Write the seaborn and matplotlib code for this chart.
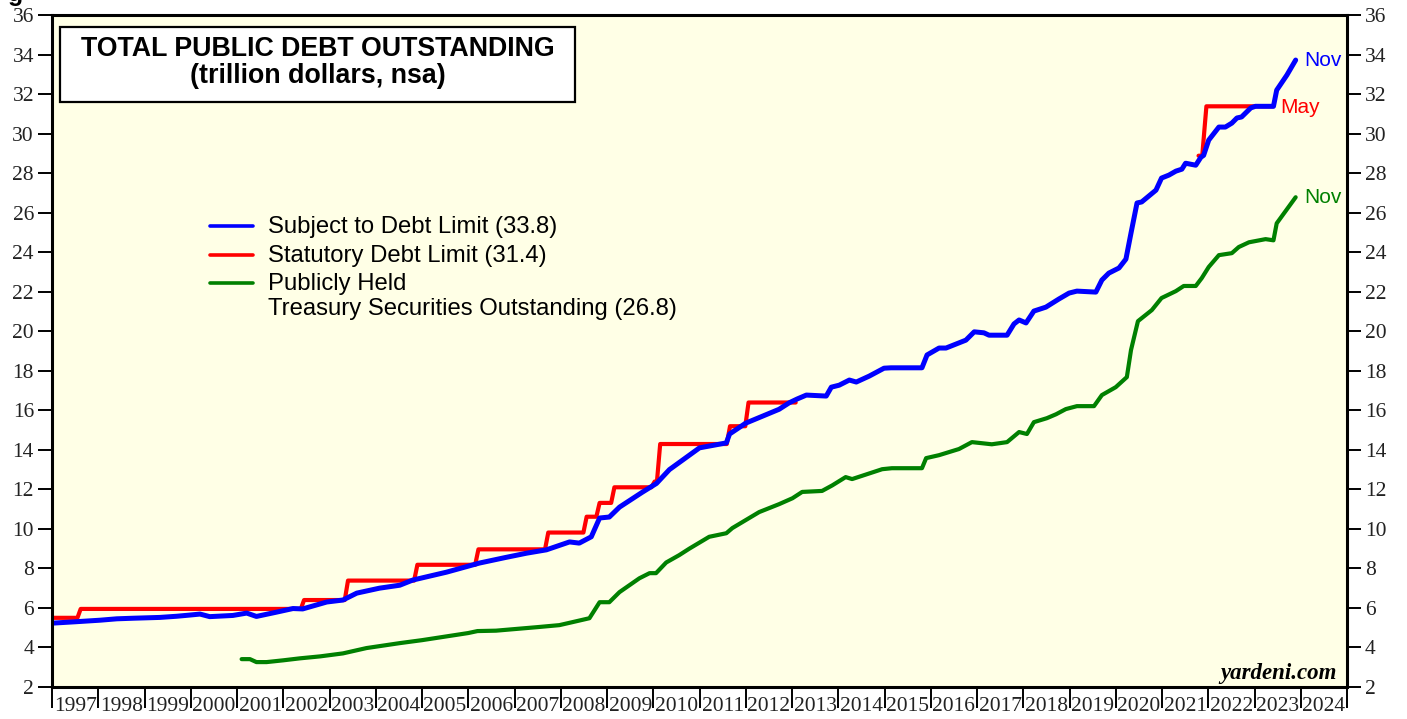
# -*- coding: utf-8 -*-

"""
Total public debt outstanding: subject to debt limit, statutory debt limit
and publicly held Treasury securities (trillion dollars, nsa).
"""

import numpy as np
import pandas as pd
import matplotlib
matplotlib.use("Agg")
import matplotlib.pyplot as plt
from matplotlib.patches import Rectangle
import seaborn as sns

# Subject to debt limit (decimal year, trillion $).
blue_x = [1997.00, 1997.50, 1998.04, 1998.40, 1998.76, 1999.33, 1999.70, 1999.98,
          2000.20, 2000.41, 2000.91, 2001.21, 2001.42, 2001.86, 2002.21, 2002.42,
          2002.94, 2003.29, 2003.59, 2004.08, 2004.52, 2004.80, 2005.53, 2006.24,
          2006.80, 2007.26, 2007.69, 2008.19, 2008.40, 2008.66, 2008.84, 2009.05,
          2009.27, 2009.76, 2010.07, 2010.35, 2011.00, 2011.58, 2011.65, 2012.00,
          2012.72, 2012.94, 2013.11, 2013.31, 2013.74, 2013.85, 2014.02, 2014.24,
          2014.39, 2014.67, 2014.99, 2015.14, 2015.81, 2015.92, 2016.18, 2016.33,
          2016.76, 2016.94, 2017.15, 2017.26, 2017.65, 2017.80, 2017.91, 2018.06,
          2018.23, 2018.49, 2018.77, 2018.99, 2019.16, 2019.57, 2019.70, 2019.85,
          2020.07, 2020.22, 2020.33, 2020.46, 2020.56, 2020.87, 2020.99, 2021.15,
          2021.30, 2021.43, 2021.51, 2021.73, 2021.84, 2021.90, 2022.01, 2022.23,
          2022.37, 2022.51, 2022.62, 2022.72, 2022.92, 2023.02, 2023.41, 2023.48,
          2023.70, 2023.89]
blue_y = [5.23, 5.30, 5.38, 5.45, 5.48, 5.52, 5.58, 5.64,
          5.69, 5.56, 5.62, 5.74, 5.57, 5.79, 5.97, 5.95,
          6.30, 6.40, 6.75, 7.00, 7.15, 7.41, 7.81, 8.27,
          8.55, 8.77, 8.94, 9.34, 9.28, 9.60, 10.55, 10.60,
          11.10, 11.85, 12.30, 13.00, 14.10, 14.35, 14.80, 15.35,
          16.05, 16.38, 16.57, 16.77, 16.72, 17.17, 17.27, 17.53,
          17.43, 17.73, 18.13, 18.15, 18.15, 18.80, 19.15, 19.15,
          19.55, 19.97, 19.92, 19.80, 19.80, 20.37, 20.57, 20.42,
          21.02, 21.22, 21.63, 21.93, 22.03, 21.98, 22.59, 22.94,
          23.20, 23.65, 24.97, 26.49, 26.54, 27.14, 27.75, 27.90,
          28.10, 28.20, 28.50, 28.40, 28.80, 28.90, 29.67, 30.33,
          30.33, 30.53, 30.79, 30.84, 31.30, 31.38, 31.38, 32.20,
          32.96, 33.72]

# Statutory debt limit, 1997 to the 2013 suspension.
red_a_x = [1997.00, 1997.55, 1997.62, 2002.38, 2002.45, 2003.33, 2003.40,
           2004.83, 2004.90, 2006.15, 2006.22, 2007.66, 2007.73, 2008.49,
           2008.56, 2008.77, 2008.84, 2009.09, 2009.16, 2009.96, 2010.03,
           2010.08, 2010.15, 2011.59, 2011.66, 2011.99, 2012.06, 2013.08]
red_a_y = [5.50, 5.50, 5.95, 5.95, 6.40, 6.40, 7.384,
           7.384, 8.184, 8.184, 8.965, 8.965, 9.815, 9.815,
           10.615, 10.615, 11.315, 11.315, 12.104, 12.104, 12.394,
           12.394, 14.294, 14.294, 15.194, 15.194, 16.394, 16.394]

# Statutory debt limit, late 2021 to May 2023.
red_b_x = [2021.79, 2021.87, 2021.96, 2023.40]
red_b_y = [28.88, 28.88, 31.38, 31.38]

# Publicly held Treasury securities outstanding.
green_x = [2001.10, 2001.28, 2001.42, 2001.64, 2002.00, 2002.36, 2002.80, 2003.29,
           2003.80, 2004.52, 2005.00, 2005.50, 2006.00, 2006.20, 2006.60, 2007.00,
           2007.50, 2007.97, 2008.25, 2008.62, 2008.84, 2009.05, 2009.27, 2009.70,
           2009.92, 2010.06, 2010.28, 2010.56, 2010.78, 2011.21, 2011.58, 2011.71,
           2012.29, 2012.72, 2013.01, 2013.22, 2013.65, 2013.87, 2014.16, 2014.30,
           2014.95, 2015.16, 2015.81, 2015.90, 2016.18, 2016.61, 2016.89, 2017.32,
           2017.65, 2017.91, 2018.08, 2018.23, 2018.51, 2018.71, 2018.92, 2019.16,
           2019.53, 2019.70, 2020.00, 2020.24, 2020.33, 2020.48, 2020.78, 2020.99,
           2021.30, 2021.47, 2021.73, 2021.86, 2022.01, 2022.23, 2022.51, 2022.66,
           2022.88, 2023.24, 2023.41, 2023.48, 2023.89]
green_y = [3.41, 3.41, 3.26, 3.26, 3.35, 3.45, 3.55, 3.70,
           3.97, 4.22, 4.37, 4.55, 4.73, 4.83, 4.85, 4.93,
           5.03, 5.13, 5.28, 5.48, 6.29, 6.29, 6.80, 7.50,
           7.76, 7.76, 8.30, 8.67, 9.00, 9.60, 9.78, 10.04,
           10.85, 11.25, 11.55, 11.87, 11.92, 12.20, 12.62, 12.52,
           13.02, 13.07, 13.07, 13.58, 13.73, 14.04, 14.39, 14.28,
           14.39, 14.90, 14.80, 15.40, 15.60, 15.80, 16.06, 16.21,
           16.21, 16.77, 17.17, 17.68, 19.05, 20.51, 21.07, 21.68,
           22.03, 22.29, 22.29, 22.69, 23.25, 23.85, 23.95, 24.26,
           24.50, 24.66, 24.60, 25.46, 26.78]

years = list(range(1997, 2025))
y_ticks = list(range(2, 37, 2))

legend_labels = ["Subject to Debt Limit (33.8)",
                 "Statutory Debt Limit (31.4)",
                 "Publicly Held\nTreasury Securities Outstanding (26.8)"]

BLUE = "#0000FF"
RED = "#FF0000"
GREEN = "#008000"

sns.set_style("white")
plt.rcParams["font.family"] = ["Liberation Sans", "DejaVu Sans"]
plt.rcParams["text.color"] = "black"

# Pixel helpers (axes box is 52..1347 x 15..687 px).
def ax_x(px):
    return (px - 52) / 1295.0

def ax_y(py):
    return 1 - (py - 15) / 672.0

# Initialize the figure.
fig = plt.figure(figsize=(14.07, 7.19), dpi=100)
ax = fig.add_axes([52 / 1407, 1 - 687 / 719, 1295 / 1407, 672 / 719])
ax.set_facecolor("#FFFFE6")

# Plot the series.
sns.lineplot(x=red_a_x, y=red_a_y, ax=ax, color=RED, linewidth=3.0,
             estimator=None, sort=False)
sns.lineplot(x=red_b_x, y=red_b_y, ax=ax, color=RED, linewidth=3.0,
             estimator=None, sort=False)
sns.lineplot(x=green_x, y=green_y, ax=ax, color=GREEN, linewidth=3.0,
             estimator=None, sort=False)
sns.lineplot(x=blue_x, y=blue_y, ax=ax, color=BLUE, linewidth=3.6,
             estimator=None, sort=False)

# Axis limits.
ax.set_xlim(1997, 2025)
ax.set_ylim(2, 36)
ax.set_xlabel("")
ax.set_ylabel("")

# Spines.
for side in ["left", "right", "top", "bottom"]:
    ax.spines[side].set_visible(True)
    ax.spines[side].set_color("black")
    ax.spines[side].set_linewidth(2.2)

# Y ticks on both sides.
ax.set_yticks(y_ticks)
ax.tick_params(axis="y", which="both", left=True, right=True,
               labelleft=True, labelright=True, direction="out",
               length=10, width=1.4, pad=3, labelsize=15.5,
               colors="black", labelcolor="#222222")

# X ticks: year boundaries as lines, year labels centred in between.
ax.set_xticks(years + [2025])
ax.set_xticklabels([])
ax.set_xticks([y + 0.5 for y in years], minor=True)
ax.set_xticklabels([str(y) for y in years], minor=True)
ax.tick_params(axis="x", which="major", bottom=True, direction="out",
               length=15, width=1.4, color="black")
ax.tick_params(axis="x", which="minor", bottom=True, length=0, pad=7.5,
               labelsize=15.5, labelcolor="#222222")
for lab in ax.get_xticklabels(minor=True) + ax.get_yticklabels():
    lab.set_family("Liberation Serif")

# Title box.
ax.add_patch(Rectangle((ax_x(60), ax_y(102)), ax_x(575) - ax_x(60),
                       ax_y(27) - ax_y(102), transform=ax.transAxes,
                       facecolor="white", edgecolor="black", linewidth=1.6,
                       zorder=5))
ax.text(ax_x(318), ax_y(49), "TOTAL PUBLIC DEBT OUTSTANDING",
        transform=ax.transAxes, ha="center", va="center", fontsize=19.3,
        fontweight="bold", zorder=6)
ax.text(ax_x(318), ax_y(76), "(trillion dollars, nsa)",
        transform=ax.transAxes, ha="center", va="center", fontsize=19.3,
        fontweight="bold", zorder=6)

# Legend drawn by hand.
leg_rows = [227, 256, 284]
for label, color, yrow in zip(legend_labels, [BLUE, RED, GREEN], leg_rows):
    ax.plot([ax_x(210), ax_x(253)], [ax_y(yrow - 1), ax_y(yrow - 1)],
            transform=ax.transAxes, color=color, linewidth=2.6)
    first, *rest = label.split("\n")
    ax.text(ax_x(268), ax_y(yrow), first, transform=ax.transAxes,
            ha="left", va="center", fontsize=17.2)
    for k, line in enumerate(rest):
        ax.text(ax_x(268), ax_y(yrow + 25 * (k + 1)), line,
                transform=ax.transAxes, ha="left", va="center",
                fontsize=17.2)

# End labels.
ax.annotate("Nov", (blue_x[-1], blue_y[-1]), xytext=(6, 0),
            textcoords="offset points", color=BLUE, fontsize=15,
            va="center", ha="left")
ax.annotate("May", (red_b_x[-1], red_b_y[-1]), xytext=(5, -1),
            textcoords="offset points", color=RED, fontsize=15,
            va="center", ha="left")
ax.annotate("Nov", (green_x[-1], green_y[-1]), xytext=(6, 0),
            textcoords="offset points", color=GREEN, fontsize=15,
            va="center", ha="left")

# Source.
ax.text(ax_x(1337), ax_y(673), "yardeni.com", transform=ax.transAxes,
        ha="right", va="center", fontsize=16.5, fontweight="bold",
        fontstyle="italic", family="Liberation Serif")

# Cut-off header at the very top.
fig.text(0.006, 0.9985, "g", ha="left", va="baseline", fontsize=18,
         fontweight="bold")

plt.savefig("out.png", dpi=100)
